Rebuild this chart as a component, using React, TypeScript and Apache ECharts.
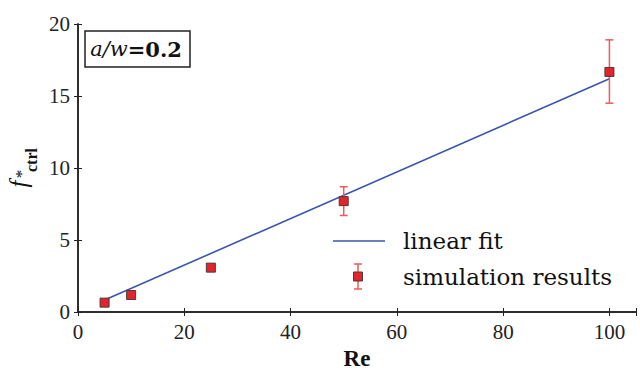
import React, { useEffect, useRef } from "react";
import * as echarts from "echarts";

const reynolds = [5, 10, 25, 50, 100];
const fctrl = [0.65, 1.18, 3.08, 7.7, 16.67];
const errLow = [0.65, 1.18, 3.08, 6.7, 14.5];
const errHigh = [0.65, 1.18, 3.08, 8.7, 18.9];
const fitX = [5, 100];
const fitY = [0.83, 16.2];
const xTicks = [0, 20, 40, 60, 80, 100];
const yTicks = [0, 5, 10, 15, 20];

const TICKFONT = "Liberation Serif";
const TEXTFONT = "DejaVu Serif";
const RED = "#e3242b";
const ERR = "#ef5a5a";
const BLUE = "#3b55ad";
const AX = "#222";

export default function App() {
  const ref = useRef<HTMLDivElement>(null);
  useEffect(() => {
    const chart = echarts.init(ref.current!, null, { renderer: "svg" });
    const axisCommon = {
      axisLine: { show: true, lineStyle: { color: AX, width: 1.5 } },
      axisTick: { show: true, inside: true, length: 4, lineStyle: { color: AX, width: 1 } },
      splitLine: { show: false },
    };
    chart.setOption({
      animation: false,
      backgroundColor: "#fff",
      textStyle: { fontFamily: TICKFONT },
      grid: { left: 78, top: 24, width: 558, height: 288, containLabel: false, outerBoundsMode: "none" },
      xAxis: [
        {
          type: "value", min: 0, max: 105, interval: 20,
          ...axisCommon,
          axisLabel: {
            fontFamily: TICKFONT, fontSize: 21, color: "#222", margin: 9,
            formatter: (v: number) => (xTicks.includes(v) ? String(v) : ""),
          },
          name: "Re", nameLocation: "middle", nameGap: 36,
          nameTextStyle: { fontFamily: TICKFONT, fontSize: 23, lineHeight: 20, fontWeight: "bold", color: "#111" },
        },
        {
          type: "value", min: 0, max: 105, interval: 20, position: "top",
          ...axisCommon, axisLabel: { show: false },
        },
      ],
      yAxis: [
        {
          type: "value", min: 0, max: 20, interval: 5,
          ...axisCommon,
          axisLabel: {
            fontFamily: TICKFONT, fontSize: 21, color: "#222", margin: 8,
            formatter: (v: number) => (yTicks.includes(v) ? String(v) : ""),
          },
        },
        {
          type: "value", min: 0, max: 20, interval: 5, position: "right",
          ...axisCommon, axisLabel: { show: false },
        },
      ],
      series: [
        {
          type: "line", name: "linear fit",
          data: fitX.map((x, i) => [x, fitY[i]]),
          symbol: "none", lineStyle: { color: BLUE, width: 1.6 }, z: 2,
        },
        {
          type: "custom", name: "errors",
          data: reynolds.map((x, i) => [x, errLow[i], errHigh[i]]),
          renderItem: (params: any, api: any) => {
            const x = api.value(0);
            const lo = api.coord([x, api.value(1)]);
            const hi = api.coord([x, api.value(2)]);
            if (Math.abs(lo[1] - hi[1]) < 1) return { type: "group", children: [] };
            const style = { stroke: ERR, lineWidth: 1.5 };
            return {
              type: "group",
              children: [
                { type: "line", shape: { x1: hi[0], y1: hi[1], x2: lo[0], y2: lo[1] }, style },
                { type: "line", shape: { x1: hi[0] - 4, y1: hi[1], x2: hi[0] + 4, y2: hi[1] }, style },
                { type: "line", shape: { x1: lo[0] - 4, y1: lo[1], x2: lo[0] + 4, y2: lo[1] }, style },
              ],
            };
          },
          z: 3,
        },
        {
          type: "scatter", name: "simulation results",
          data: reynolds.map((x, i) => [x, fctrl[i]]),
          symbol: "rect", symbolSize: 9,
          itemStyle: { color: RED, borderColor: "#4a3a3a", borderWidth: 1, opacity: 1 },
          z: 4,
        },
      ],
      graphic: [
        {
          type: "rect", shape: { x: 85, y: 31, width: 105, height: 36 },
          style: { fill: "#fff", stroke: AX, lineWidth: 1.5 }, z: 10,
        },
        {
          type: "text", x: 136, y: 49, z: 11,
          style: {
            text: "{i|a/w}{b|=0.2}", align: "center", verticalAlign: "middle",
            rich: {
              i: { fontFamily: TEXTFONT, fontStyle: "italic", fontSize: 21, fill: "#111" },
              b: { fontFamily: TEXTFONT, fontWeight: "bold", fontSize: 21, fill: "#111" },
            },
          },
        },
        {
          type: "text", x: 18, y: 184, rotation: Math.PI / 2, z: 11,
          style: { text: "f", fontFamily: TICKFONT, fontStyle: "italic", fontSize: 25, fill: "#111", align: "center", verticalAlign: "middle" },
        },
        {
          type: "text", x: 21, y: 174, rotation: Math.PI / 2, z: 11,
          style: { text: "*", fontFamily: TICKFONT, fontSize: 17, fill: "#111", align: "center", verticalAlign: "middle" },
        },
        {
          type: "text", x: 31, y: 160, rotation: Math.PI / 2, z: 11,
          style: { text: "ctrl", fontFamily: TICKFONT, fontWeight: "bold", fontSize: 16, fill: "#111", align: "center", verticalAlign: "middle" },
        },
        { type: "line", shape: { x1: 333, y1: 241, x2: 385, y2: 241 }, style: { stroke: BLUE, lineWidth: 1.6 }, z: 11 },
        {
          type: "text", x: 403, y: 241, z: 11,
          style: { text: "linear fit", fontFamily: TEXTFONT, fontSize: 23, fill: "#111", verticalAlign: "middle" },
        },
        { type: "line", shape: { x1: 358, y1: 264, x2: 358, y2: 289 }, style: { stroke: ERR, lineWidth: 1.5 }, z: 11 },
        { type: "line", shape: { x1: 354, y1: 264, x2: 362, y2: 264 }, style: { stroke: ERR, lineWidth: 1.5 }, z: 11 },
        { type: "line", shape: { x1: 354, y1: 289, x2: 362, y2: 289 }, style: { stroke: ERR, lineWidth: 1.5 }, z: 11 },
        { type: "rect", shape: { x: 353.5, y: 272, width: 9, height: 9 }, style: { fill: RED, stroke: "#4a3a3a", lineWidth: 1 }, z: 12 },
        {
          type: "text", x: 403, y: 277, z: 11,
          style: { text: "simulation results", fontFamily: TEXTFONT, fontSize: 23, fill: "#111", verticalAlign: "middle" },
        },
      ],
    });
    return () => chart.dispose();
  }, []);
  return <div ref={ref} style={{ width: 640, height: 370, position: "absolute", left: 0, top: 0 }} />;
}
